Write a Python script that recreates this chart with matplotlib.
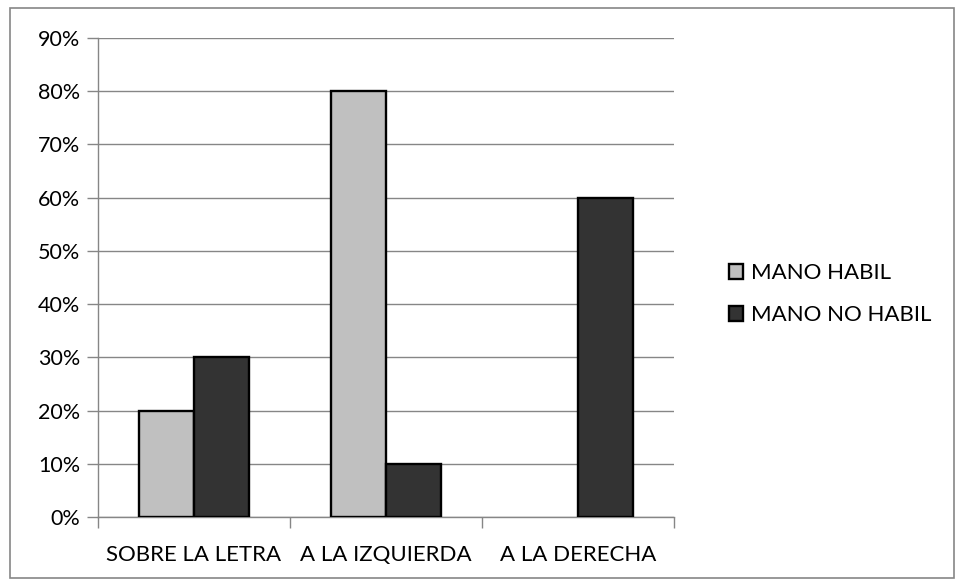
import matplotlib

matplotlib.use("Agg")
import matplotlib.pyplot as plt
import numpy as np
from matplotlib.patches import Rectangle
from matplotlib.ticker import PercentFormatter

categories = ["SOBRE LA LETRA", "A LA IZQUIERDA", "A LA DERECHA"]
series_names = ["MANO HABIL", "MANO NO HABIL"]
mano_habil = [20, 80, 0]
mano_no_habil = [30, 10, 60]
y_ticks = [0, 10, 20, 30, 40, 50, 60, 70, 80, 90]

COL = {"light": "#C0C0C0", "dark": "#333333", "grid": "#868686", "edge": "#000000"}

plt.rcParams["font.family"] = ["Lato", "DejaVu Sans"]
FS = 16

W, H = 964, 586
fig = plt.figure(figsize=(W / 100, H / 100), dpi=100, facecolor="white")
ax = fig.add_axes([98 / W, 1 - 517 / H, (674 - 98) / W, (517 - 38) / H])

# outer chart frame
fig.add_artist(Rectangle((10 / W, 8 / H), (954 - 10) / W, (578 - 8) / H,
                         transform=fig.transFigure, fill=False,
                         edgecolor=COL["grid"], linewidth=1.2))

x = np.arange(len(categories))
w = 1 / 3.5
for vals, off, fc, name in [(mano_habil, -w / 2, COL["light"], series_names[0]),
                            (mano_no_habil, w / 2, COL["dark"], series_names[1])]:
    bars = ax.bar(x + off, vals, w, color=fc, edgecolor=COL["edge"],
                  linewidth=1.7, label=name, zorder=3)
    for b, v in zip(bars, vals):
        if v == 0:
            b.set_linewidth(0)

ax.set_xlim(-0.5, len(categories) - 0.5)
ax.set_ylim(0, 90)
ax.set_yticks(y_ticks)
ax.yaxis.set_major_formatter(PercentFormatter(decimals=0))
ax.yaxis.grid(True, color=COL["grid"], linewidth=1.0, zorder=0)

ax.set_xticks(np.arange(len(categories) + 1) - 0.5, minor=False)
ax.set_xticklabels([])
ax.set_xticks(x, minor=True)
ax.set_xticklabels(categories, minor=True)
ax.tick_params(axis="x", which="minor", length=0, pad=20, labelsize=FS)
ax.tick_params(axis="x", which="major", length=8, color=COL["grid"], width=1.0)
ax.tick_params(axis="y", length=8, color=COL["grid"], width=1.0, labelsize=15.5, pad=5)

for s in ["top", "right"]:
    ax.spines[s].set_visible(False)
for s in ["left", "bottom"]:
    ax.spines[s].set_color(COL["grid"])
    ax.spines[s].set_linewidth(1.0)

ax.legend(loc="center left", bbox_to_anchor=(1.076, 0.465), frameon=False,
          fontsize=FS, handlelength=0.65, handleheight=0.65, handletextpad=0.35,
          labelspacing=1.0, borderpad=0)

fig.savefig("out.png", dpi=100, facecolor="white")
